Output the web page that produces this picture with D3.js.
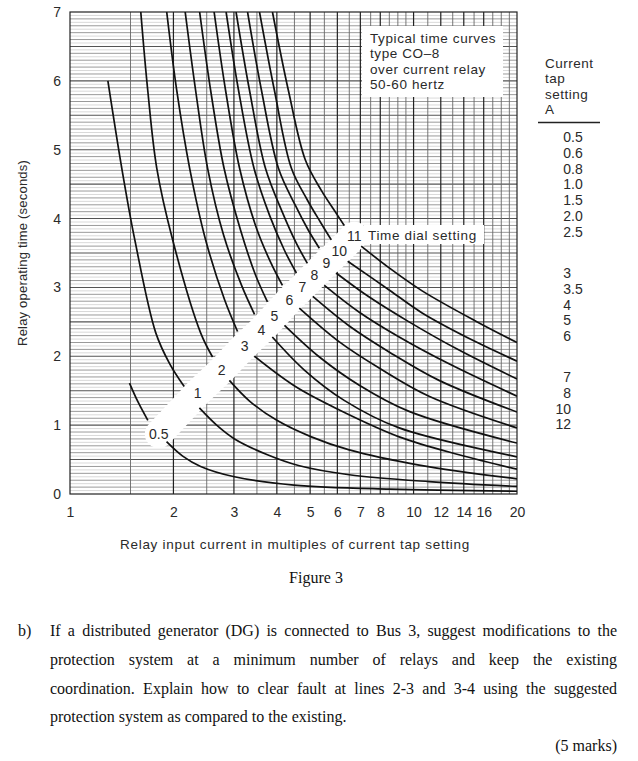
<!DOCTYPE html>
<html>
<head>
<meta charset="utf-8">
<script src="https://cdn.jsdelivr.net/npm/d3@7"></script>
<style>
  body { margin: 0; background: #fff; }
  svg text { font-family: "Liberation Sans", Arial, sans-serif; fill: #2a2a2a; }
  svg text.serif { font-family: "Liberation Serif", "Times New Roman", serif; fill: #111; letter-spacing: 0; }
</style>
</head>
<body>
<div id="chart"></div>
<script>
// ---- data ----
var xTicks = [1, 2, 3, 4, 5, 6, 7, 8, 10, 12, 14, 16, 20];
var yTicks = [0, 1, 2, 3, 4, 5, 6, 7];
var dials = [0.5, 1, 2, 3, 4, 5, 6, 7, 8, 9, 10, 11];

// steep part of each curve, above the label band  [multiple, seconds]
var upperSegments = [
  [[1.49, 1.61], [1.576, 1.34], [1.685, 1.07]],
  [[1.289, 6.0], [1.415, 4.73], [1.544, 3.69], [1.777, 2.34], [1.951, 1.89], [2.15, 1.56]],
  [[1.607, 7.0], [1.684, 5.86], [1.789, 4.73], [1.99, 3.69], [2.40, 2.34], [2.60, 1.99]],
  [[1.912, 7.0], [2.045, 5.86], [2.23, 4.73], [2.482, 3.69], [2.818, 2.82], [3.074, 2.36]],
  [[2.164, 7.0], [2.321, 5.86], [2.515, 4.73], [2.799, 3.76], [3.158, 3.03], [3.444, 2.61]],
  [[2.384, 7.0], [2.567, 5.86], [2.808, 4.73], [3.137, 3.83], [3.467, 3.18], [3.756, 2.79]],
  [[2.627, 7.0], [2.837, 5.86], [3.116, 4.73], [3.467, 3.90], [3.832, 3.37], [4.152, 3.03]],
  [[2.847, 7.0], [3.095, 5.86], [3.432, 4.73], [3.807, 4.05], [4.208, 3.54], [4.56, 3.21]],
  [[3.043, 7.0], [3.331, 5.86], [3.706, 4.73], [4.152, 4.09], [4.56, 3.64], [4.907, 3.35]],
  [[3.287, 7.0], [3.609, 5.86], [4.043, 4.73], [4.529, 4.19], [4.94, 3.83], [5.317, 3.57]],
  [[3.561, 7.0], [3.936, 5.86], [4.41, 4.73], [4.907, 4.27], [5.353, 3.95], [5.761, 3.69]],
  [[3.884, 7.0], [4.322, 5.86], [4.842, 4.85], [5.389, 4.41], [5.877, 4.12], [6.284, 3.90]]
];

// flat tail of each curve, below the label band
var lowerSegments = [
  [[1.91, 0.76], [2.128, 0.55], [2.40, 0.40], [3.01, 0.25], [4.49, 0.13], [8.51, 0.07], [20, 0.04]],
  [[2.38, 1.25], [2.672, 1.00], [3.013, 0.80], [3.756, 0.57], [4.652, 0.41], [6.497, 0.28], [11.09, 0.18], [20, 0.11]],
  [[2.91, 1.65], [3.331, 1.35], [4.0, 1.07], [5.04, 0.83], [6.497, 0.64], [10.38, 0.42], [20, 0.22]],
  [[3.44, 2.00], [4.53, 1.56], [6.08, 1.22], [9.08, 0.83], [13.56, 0.57], [20, 0.36]],
  [[3.88, 2.28], [4.81, 1.80], [6.28, 1.36], [9.08, 0.96], [20, 0.54]],
  [[4.21, 2.45], [5.32, 1.99], [6.95, 1.58], [9.70, 1.20], [20, 0.74]],
  [[4.65, 2.70], [6.08, 2.21], [7.94, 1.83], [11.09, 1.42], [20, 0.96]],
  [[5.09, 2.87], [6.50, 2.44], [8.51, 2.06], [11.86, 1.65], [20, 1.19]],
  [[5.50, 3.03], [6.95, 2.64], [9.08, 2.28], [12.68, 1.89], [20, 1.42]],
  [[5.95, 3.21], [7.43, 2.86], [9.70, 2.50], [13.56, 2.09], [20, 1.67]],
  [[6.43, 3.38], [8.51, 2.96], [10.59, 2.63], [15.18, 2.21], [20, 1.93]],
  [[7.04, 3.60], [8.51, 3.28], [10.59, 2.95], [15.18, 2.51], [20, 2.20]]
];

// where each time dial number sits on the band
var dialLabelAt = [[1.813, 0.87], [2.353, 1.47], [2.763, 1.80], [3.221, 2.15], [3.609, 2.38], [3.936, 2.58],
  [4.351, 2.82], [4.746, 3.00], [5.142, 3.18], [5.572, 3.35], [6.077, 3.53], [6.718, 3.75]];

var tapGroups = [
  ["0.5", "0.6", "0.8", "1.0", "1.5", "2.0", "2.5"],
  ["3", "3.5", "4", "5", "6"],
  ["7", "8", "10", "12"]
];
var noteLines = ["Typical time curves", "type CO\u20138", "over current relay", "50-60 hertz"];
var tapHead = ["Current", "tap", "setting", "A"];
var question = [
  "If a distributed generator (DG) is connected to Bus 3, suggest modifications to the",
  "protection system at a minimum number of relays and keep the existing",
  "coordination. Explain how to clear fault at lines 2-3 and 3-4 using the suggested",
  "protection system as compared to the existing."
];

(function() {
  var W = 638, H = 761;
  var pl = 70, pr = 517, pt = 12, pb = 494;

  var x = d3.scaleLog().domain([1, 20]).range([pl, pr]);
  var y = d3.scaleLinear().domain([0, 7]).range([pb, pt]);

  var svg = d3.select('#chart').append('svg').attr('width', W).attr('height', H);

  svg.append('clipPath').attr('id', 'plotclip').append('rect')
    .attr('x', pl).attr('y', pt).attr('width', pr - pl).attr('height', pb - pt);

  var grid = svg.append('g');

  // horizontal rules: light every 0.05 s, grey every 0.1 s, dark every 0.5 s
  d3.range(1, 140).forEach(function(i) {
    var kind = i % 10 === 0 ? 2 : (i % 2 === 0 ? 1 : 0);
    grid.append('line')
      .attr('x1', pl).attr('x2', pr)
      .attr('y1', y(i / 20)).attr('y2', y(i / 20))
      .attr('stroke', ['#c9c9c9', '#8f8f8f', '#555'][kind])
      .attr('stroke-width', [0.7, 0.9, 1.1][kind]);
  });

  // vertical rules
  var majorX = [2, 3, 4, 5, 6, 7, 8, 10, 12, 14, 16];
  var vx = d3.range(1.5, 10, 0.5).concat(d3.range(10, 20, 1));
  vx.forEach(function(v) {
    var major = majorX.indexOf(v) >= 0;
    grid.append('line')
      .attr('x1', x(v)).attr('x2', x(v))
      .attr('y1', pt).attr('y2', pb)
      .attr('stroke', major ? '#222' : '#666')
      .attr('stroke-width', major ? 1.2 : 0.9);
  });

  // white band carrying the dial numbers
  var bandPts = dialLabelAt.map(function(d) { return [x(d[0]), y(d[1])]; });
  grid.append('path')
    .attr('d', d3.line().curve(d3.curveLinear)(bandPts))
    .attr('fill', 'none').attr('stroke', '#fff')
    .attr('stroke-width', 28).attr('stroke-linecap', 'round').attr('stroke-linejoin', 'round');

  // note box
  grid.append('rect')
    .attr('x', 362).attr('y', 26).attr('width', 141).attr('height', 71)
    .attr('fill', '#fff');
  // time dial setting box
  grid.append('rect')
    .attr('x', 364).attr('y', 225).attr('width', 120).attr('height', 19)
    .attr('fill', '#fff');

  // frame
  svg.append('rect')
    .attr('x', pl).attr('y', pt).attr('width', pr - pl).attr('height', pb - pt)
    .attr('fill', 'none').attr('stroke', '#222').attr('stroke-width', 1.2);

  // curves
  var line = d3.line()
    .x(function(d) { return x(d[0]); })
    .y(function(d) { return y(d[1]); })
    .curve(d3.curveCatmullRom.alpha(0.5));

  var curves = svg.append('g').attr('clip-path', 'url(#plotclip)');
  curves.selectAll('path.up').data(upperSegments).enter().append('path')
    .attr('class', 'up').attr('d', line)
    .attr('fill', 'none').attr('stroke', '#111').attr('stroke-width', 1.7);
  curves.selectAll('path.low').data(lowerSegments).enter().append('path')
    .attr('class', 'low').attr('d', line)
    .attr('fill', 'none').attr('stroke', '#111').attr('stroke-width', 1.7);

  // dial numbers
  svg.append('g').selectAll('text').data(dials).enter().append('text')
    .attr('x', function(d, i) { return x(dialLabelAt[i][0]); })
    .attr('y', function(d, i) { return y(dialLabelAt[i][1]) + 5; })
    .attr('text-anchor', 'middle')
    .attr('font-size', 14)
    .text(function(d) { return d; });

  svg.append('text').attr('x', 368).attr('y', 239.5)
    .attr('font-size', 13.5).attr('letter-spacing', 0.65).text('Time dial setting');

  // note text
  svg.append('g').selectAll('text').data(noteLines).enter().append('text')
    .attr('x', 370).attr('y', function(d, i) { return 42.5 + i * 15.5; })
    .attr('font-size', 13.5).attr('letter-spacing', 0.6).text(function(d) { return d; });

  // axes
  var xAxis = d3.axisBottom(x).tickValues(xTicks).tickFormat(d3.format('d')).tickSize(0).tickPadding(13);
  var gx = svg.append('g').attr('transform', 'translate(0,' + pb + ')').call(xAxis);
  gx.select('.domain').remove();
  gx.selectAll('text').attr('font-size', 14).attr('fill', '#2a2a2a')
    .attr('font-family', '"Liberation Sans", Arial, sans-serif');

  var yAxis = d3.axisLeft(y).tickValues(yTicks).tickFormat(d3.format('d')).tickSize(0).tickPadding(9);
  var gy = svg.append('g').attr('transform', 'translate(' + pl + ',0)').call(yAxis);
  gy.select('.domain').remove();
  gy.selectAll('text').attr('font-size', 14).attr('fill', '#2a2a2a')
    .attr('font-family', '"Liberation Sans", Arial, sans-serif');

  svg.append('text')
    .attr('transform', 'translate(27,253) rotate(-90)')
    .attr('text-anchor', 'middle').attr('font-size', 13).attr('letter-spacing', 0.2)
    .text('Relay operating time (seconds)');

  svg.append('text').attr('x', 295).attr('y', 548.5)
    .attr('text-anchor', 'middle').attr('font-size', 13.5).attr('letter-spacing', 0.7)
    .text('Relay input current in multiples of current tap setting');

  // current tap setting column
  svg.append('g').selectAll('text').data(tapHead).enter().append('text')
    .attr('x', 545).attr('y', function(d, i) { return 67.5 + i * 15.5; })
    .attr('font-size', 13.5).attr('letter-spacing', 0.5).text(function(d) { return d; });
  svg.append('line').attr('x1', 538).attr('x2', 600).attr('y1', 122.5).attr('y2', 122.5)
    .attr('stroke', '#222').attr('stroke-width', 1.3);

  var groupTop = [137, 273, 377];
  var tapCol = svg.append('g');
  tapGroups.forEach(function(g, gi) {
    g.forEach(function(v, i) {
      var parts = v.split('.');
      var yy = groupTop[gi] + i * 15.8 + 5;
      tapCol.append('text').attr('x', 571).attr('y', yy).attr('text-anchor', 'end')
        .attr('font-size', 14).text(parts[0]);
      if (parts.length > 1) {
        tapCol.append('text').attr('x', 571).attr('y', yy).attr('text-anchor', 'start')
          .attr('font-size', 14).text('.' + parts[1]);
      }
    });
  });

  // caption and question text
  svg.append('text').attr('class', 'serif').attr('x', 316).attr('y', 583)
    .attr('text-anchor', 'middle').attr('font-size', 16).text('Figure 3');

  var qx0 = 50, qx1 = 617, qTop = 636, qStep = 28.75;
  svg.append('text').attr('class', 'serif').attr('x', 18).attr('y', qTop)
    .attr('font-size', 16).text('b)');

  question.forEach(function(ln, li) {
    var yy = qTop + li * qStep;
    if (li === question.length - 1) {
      svg.append('text').attr('class', 'serif').attr('x', qx0).attr('y', yy)
        .attr('font-size', 16).text(ln);
      return;
    }
    var words = ln.split(' ');
    var nodes = words.map(function(w) {
      return svg.append('text').attr('class', 'serif').attr('y', yy)
        .attr('font-size', 16).text(w);
    });
    var widths = nodes.map(function(n) { return n.node().getComputedTextLength(); });
    var gap = (qx1 - qx0 - d3.sum(widths)) / (words.length - 1);
    var cx = qx0;
    nodes.forEach(function(n, i) { n.attr('x', cx); cx += widths[i] + gap; });
  });

  svg.append('text').attr('class', 'serif').attr('x', qx1).attr('y', qTop + 4 * qStep)
    .attr('text-anchor', 'end').attr('font-size', 16).text('(5 marks)');
})();
</script>
</body>
</html>
